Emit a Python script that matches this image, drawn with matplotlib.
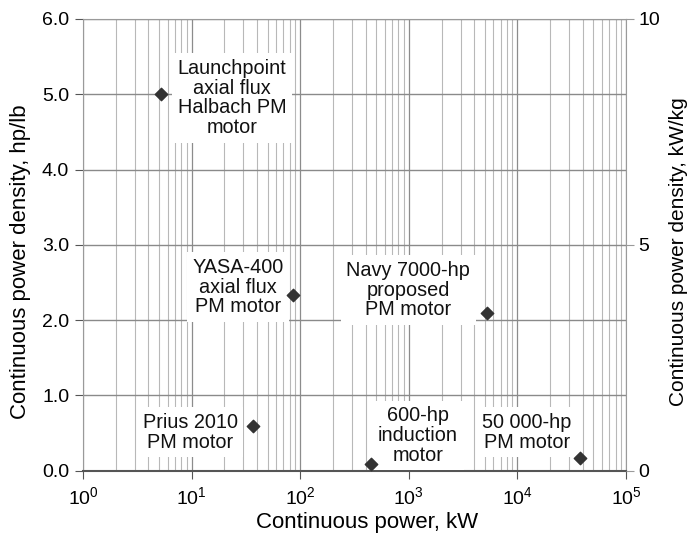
import matplotlib
matplotlib.use("Agg")
import matplotlib.pyplot as plt
from matplotlib.ticker import LogLocator, NullFormatter, FixedLocator

plt.rcParams['font.family'] = ['Liberation Sans', 'DejaVu Sans']
plt.rcParams['mathtext.fontset'] = 'custom'
plt.rcParams['mathtext.rm'] = 'Liberation Sans'
plt.rcParams['mathtext.it'] = 'Liberation Sans'
plt.rcParams['mathtext.default'] = 'regular'

# Motor data: continuous power (kW) and continuous power density (hp/lb)
motors = ["Launchpoint", "YASA-400", "Prius 2010", "600-hp", "Navy 7000-hp", "50 000-hp"]
power_kw = [5.25, 86, 37, 447, 5220, 37300]
density_hplb = [5.0, 2.34, 0.6, 0.09, 2.1, 0.17]

labels = [
    "Launchpoint\naxial flux\nHalbach PM\nmotor",
    "YASA-400\naxial flux\nPM motor",
    "Prius 2010\nPM motor",
    "600-hp\ninduction\nmotor",
    "Navy 7000-hp\nproposed\nPM motor",
    "50 000-hp\nPM motor",
]
label_x = [23.5, 26.7, 9.7, 1216, 984, 12250]
label_y = [4.95, 2.44, 0.51, 0.47, 2.40, 0.51]

yticks_left = [0.0, 1.0, 2.0, 3.0, 4.0, 5.0, 6.0]
yticks_right = [0, 5, 10]

W, H = 689, 536
fig = plt.figure(figsize=(W / 100, H / 100), dpi=100)
ax = fig.add_axes([0.1205, 0.1218, 0.7881, 0.8428])
ax.set_xscale('log')
ax.set_xlim(1, 1e5)
ax.set_ylim(0, 6.0)

ax.xaxis.set_major_locator(LogLocator(base=10, numticks=10))
ax.xaxis.set_minor_locator(LogLocator(base=10, subs=range(2, 10), numticks=20))
ax.xaxis.set_minor_formatter(NullFormatter())
ax.yaxis.set_major_locator(FixedLocator(yticks_left))
ax.set_yticklabels([f"{v:.1f}" for v in yticks_left])

ax.grid(which='minor', axis='x', color='#b8b8b8', linewidth=0.8)
ax.grid(which='major', axis='x', color='#8c8c8c', linewidth=0.9)
ax.grid(which='major', axis='y', color='#8a8a8a', linewidth=1.0)
ax.set_axisbelow(True)

for side in ['top', 'right', 'left']:
    ax.spines[side].set_color('#9a9a9a')
    ax.spines[side].set_linewidth(0.8)
ax.spines['bottom'].set_color('#555555')
ax.spines['bottom'].set_linewidth(1.5)

ax.tick_params(axis='both', which='major', labelsize=14, length=6, color='#555555', direction='out')
ax.tick_params(axis='x', which='minor', length=0)
ax.tick_params(axis='x', pad=5)
ax.tick_params(axis='y', pad=4)

ax.scatter(power_kw, density_hplb, marker='D', s=40, color='#333333', zorder=5, clip_on=False)

for txt, lx, ly in zip(labels, label_x, label_y):
    ax.text(lx, ly, txt, ha='center', va='center', fontsize=14.3, linespacing=1.05,
            color='#111111', zorder=4,
            bbox=dict(facecolor='white', edgecolor='none', pad=4))

ax2 = ax.twinx()
ax2.set_ylim(0, 10)
ax2.yaxis.set_major_locator(FixedLocator(yticks_right))
ax2.tick_params(axis='y', labelsize=14, length=6, color='#9a9a9a', direction='out', pad=3)
for side in ['top', 'right', 'left', 'bottom']:
    ax2.spines[side].set_visible(False)

# Axis titles placed in figure pixels
fig.text(367 / W, 1 - 528 / H, "Continuous power, kW", fontsize=16,
         ha='center', va='baseline')
fig.text(21 / W, 1 - 262 / H, "Continuous power density, hp/lb", fontsize=16,
         rotation=90, ha='center', va='center')
fig.text(679 / W, 1 - 252 / H, "Continuous power density, kW/kg", fontsize=15,
         rotation=90, ha='center', va='center')

fig.savefig("out.png", dpi=100)
